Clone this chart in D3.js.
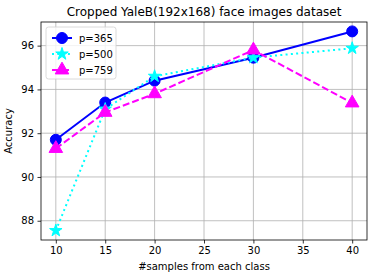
<!DOCTYPE html>
<html>
<head>
<meta charset="utf-8">
<script src="https://cdn.jsdelivr.net/npm/d3@7"></script>
<style>
  body { margin: 0; background: #fff; }
  text { font-family: "DejaVu Sans", sans-serif; fill: #000; }
</style>
</head>
<body>
<div id="chart"></div>
<script>
const samples = [10, 15, 20, 30, 40];
const p365 = [91.7, 93.4, 94.4, 95.45, 96.65];
const p500 = [87.55, 93.1, 94.6, 95.45, 95.88];
const p759 = [91.3, 92.95, 93.8, 95.8, 93.38];
const xTicks = [10, 15, 20, 25, 30, 35, 40];
const yTicks = [88, 90, 92, 94, 96];
const seriesNames = ["p=365", "p=500", "p=759"];

const series = [
  { name: seriesNames[0], values: p365, color: "#0000ff", dash: null, marker: "circle" },
  { name: seriesNames[1], values: p500, color: "#00ffff", dash: "2,3.3", marker: "star" },
  { name: seriesNames[2], values: p759, color: "#ff00ff", dash: "7,3", marker: "triangle" }
];

const W = 382, H = 278;
const m = { top: 22, right: 15, bottom: 38, left: 41 };
const width = W - m.left - m.right;
const height = H - m.top - m.bottom;

const svg = d3.select("#chart").append("svg")
  .attr("width", W).attr("height", H);

const g = svg.append("g").attr("transform", `translate(${m.left},${m.top})`);

const x = d3.scaleLinear().domain([8.5, 41.5]).range([0, width]);
const y = d3.scaleLinear().domain([87.12, 97.08]).range([height, 0]);

// grid
g.append("g").selectAll("line").data(xTicks).enter().append("line")
  .attr("x1", d => x(d)).attr("x2", d => x(d))
  .attr("y1", 0).attr("y2", height)
  .attr("stroke", "#b0b0b0").attr("stroke-width", 0.8);
g.append("g").selectAll("line").data(yTicks).enter().append("line")
  .attr("y1", d => y(d)).attr("y2", d => y(d))
  .attr("x1", 0).attr("x2", width)
  .attr("stroke", "#b0b0b0").attr("stroke-width", 0.8);

// axes
const xAxis = g.append("g")
  .attr("transform", `translate(0,${height})`)
  .call(d3.axisBottom(x).tickValues(xTicks).tickSize(3.5).tickPadding(3.5));
const yAxis = g.append("g")
  .call(d3.axisLeft(y).tickValues(yTicks).tickSize(3.5).tickPadding(3.5));
[xAxis, yAxis].forEach(a => {
  a.select(".domain").remove();
  a.selectAll("text").style("font-family", "DejaVu Sans").style("font-size", "10px").attr("fill", "#000");
  a.selectAll("line").attr("stroke", "#000").attr("stroke-width", 0.8);
});

g.append("rect").attr("width", width).attr("height", height)
  .attr("fill", "none").attr("stroke", "#000").attr("stroke-width", 0.8);

function markerPath(type) {
  if (type === "circle") return d3.symbol(d3.symbolCircle, 95)();
  if (type === "star") return d3.symbol(d3.symbolStar, 48)();
  return d3.symbol(d3.symbolTriangle, 80)();
}

const line = d3.line().x((d, i) => x(samples[i])).y(d => y(d));

series.forEach(s => {
  g.append("path").datum(s.values)
    .attr("d", line)
    .attr("fill", "none")
    .attr("stroke", s.color)
    .attr("stroke-width", 2)
    .attr("stroke-dasharray", s.dash);
  g.append("g").selectAll("path").data(s.values).enter().append("path")
    .attr("d", markerPath(s.marker))
    .attr("transform", (d, i) => `translate(${x(samples[i])},${y(d)})`)
    .attr("fill", s.color).attr("stroke", s.color).attr("stroke-width", 1);
});

// legend
const lg = g.append("g").attr("transform", "translate(5,5)");
lg.append("rect").attr("width", 70).attr("height", 52).attr("rx", 2.5)
  .attr("fill", "#fff").attr("fill-opacity", 0.8)
  .attr("stroke", "#d0d0d0").attr("stroke-width", 0.8);
series.forEach((s, i) => {
  const yy = 11 + i * 16;
  lg.append("line").attr("x1", 6).attr("x2", 26).attr("y1", yy).attr("y2", yy)
    .attr("stroke", s.color).attr("stroke-width", 2).attr("stroke-dasharray", s.dash);
  lg.append("path").attr("d", markerPath(s.marker))
    .attr("transform", `translate(16,${yy})`)
    .attr("fill", s.color).attr("stroke", s.color);
  lg.append("text").attr("x", 33).attr("y", yy).attr("dy", "0.35em")
    .style("font-size", "10px").text(s.name);
});

svg.append("text").attr("x", m.left + width / 2).attr("y", 16)
  .attr("text-anchor", "middle").style("font-size", "12px")
  .text("Cropped YaleB(192x168) face images dataset");

svg.append("text").attr("x", m.left + width / 2).attr("y", 270)
  .attr("text-anchor", "middle").style("font-size", "10px")
  .text("#samples from each class");

svg.append("text")
  .attr("transform", `translate(12,${m.top + height / 2}) rotate(-90)`)
  .attr("text-anchor", "middle").style("font-size", "10px")
  .text("Accuracy");
</script>
</body>
</html>
